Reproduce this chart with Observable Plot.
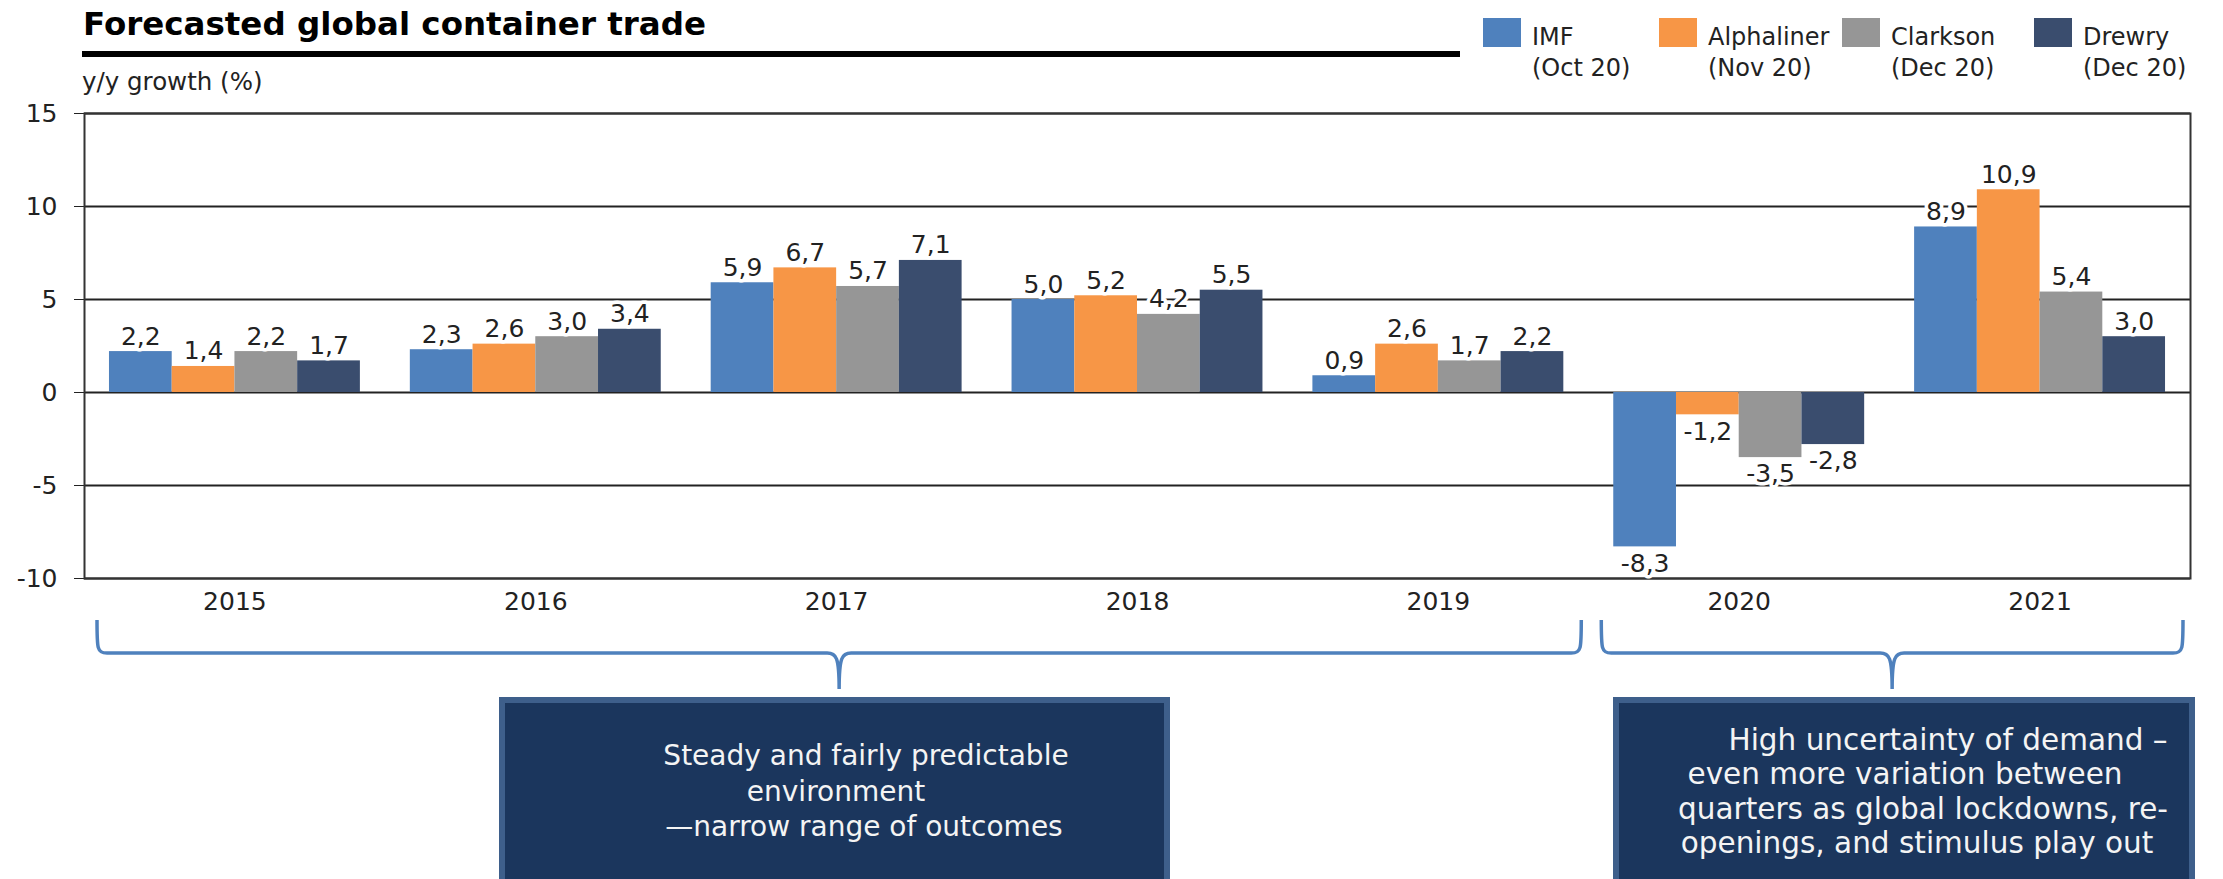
<!DOCTYPE html>
<html><head><meta charset="utf-8">
<script src="https://cdn.jsdelivr.net/npm/d3@7"></script>
<script src="https://cdn.jsdelivr.net/npm/@observablehq/plot@0.6"></script>
<style>
html,body{margin:0;padding:0;background:#fff;}
#chart{width:2223px;height:879px;overflow:hidden;}
#chart svg{display:block;}
#chart svg text{font-family:"DejaVu Sans",Verdana,sans-serif;font-size:25px;}
</style></head><body><div id="chart"></div>
<script>
// ---- data ----
const years = ["2015","2016","2017","2018","2019","2020","2021"];
const sources = ["IMF","Alphaliner","Clarkson","Drewry"];
const sourceDates = ["(Oct 20)","(Nov 20)","(Dec 20)","(Dec 20)"];
const colors = ["#4F81BD","#F79646","#969696","#3A4D6E"];
const imf        = [2.2, 2.3, 5.9, 5.0, 0.9, -8.3, 8.9];
const alphaliner = [1.4, 2.6, 6.7, 5.2, 2.6, -1.2, 10.9];
const clarkson   = [2.2, 3.0, 5.7, 4.2, 1.7, -3.5, 5.4];
const drewry     = [1.7, 3.4, 7.1, 5.5, 2.2, -2.8, 3.0];
const yTicks = [-10, -5, 0, 5, 10, 15];
const title = "Forecasted global container trade";
const yLabel = "y/y growth (%)";
const note1 = ["Steady and fairly predictable", "environment", "\u2014narrow range of outcomes"];
const note2 = ["High uncertainty of demand \u2013", "even more variation between", "quarters as global lockdowns, re-", "openings, and stimulus play out"];
const periods = [{first: "2015", last: "2019", lines: note1}, {first: "2020", last: "2021", lines: note2}];

// ---- table ----
const series = [imf, alphaliner, clarkson, drewry];
const data = [];
years.forEach((yr, i) => series.forEach((vals, j) => data.push({year: yr, yi: i, source: sources[j], si: j, value: vals[i]})));
const BW = 0.2085, PAD = (1 - 4 * BW) / 2;
const bx1 = d => d.yi + PAD + d.si * BW;
const bx2 = d => bx1(d) + BW;
const bxc = d => bx1(d) + BW / 2;
const fmt = v => v.toFixed(1).replace(".", ",");

const plot = Plot.plot({
  width: 2223, height: 879,
  marginLeft: 84, marginRight: 33, marginTop: 113, marginBottom: 301,
  style: {fontFamily: "DejaVu Sans", fontSize: "25px", color: "#222", background: "white", overflow: "visible"},
  x: {domain: [0, years.length], ticks: years.map((_, i) => i + 0.5), tickFormat: d => years[Math.floor(d)], tickSize: 0, tickPadding: 14, label: null},
  y: {domain: [-10, 15], ticks: yTicks, tickFormat: d => String(d), tickSize: 10, tickPadding: 17, label: null},
  color: {domain: sources, range: colors},
  marks: [
    Plot.ruleY(yTicks, {stroke: "#222", strokeWidth: 1.8}),
    Plot.rect(data, {x1: bx1, x2: bx2, y1: 0, y2: "value", fill: "source"}),
    Plot.frame({stroke: "#333", strokeWidth: 2}),
    Plot.text(data.filter(d => d.value >= 0), {x: bxc, y: "value", text: d => fmt(d.value), lineAnchor: "bottom", dy: -7, fontSize: 25, fill: "#222", stroke: "white", strokeWidth: 7, paintOrder: "stroke"}),
    Plot.text(data.filter(d => d.value < 0), {x: bxc, y: "value", text: d => fmt(d.value), lineAnchor: "top", dy: 7, fontSize: 25, fill: "#222", stroke: "white", strokeWidth: 7, paintOrder: "stroke"})
  ]
});
document.getElementById("chart").appendChild(plot);

// ---- annotations ----
const svg = d3.select(plot);
const xs = plot.scale("x");
const X = v => xs.apply(v);

svg.append("text").attr("x", 83).attr("y", 35).attr("fill", "#000").attr("text-anchor", "start")
  .style("font", "bold 32.5px 'DejaVu Sans'").text(title);
svg.append("rect").attr("x", 82).attr("y", 51).attr("width", 1378).attr("height", 6).attr("fill", "#000");
svg.append("text").attr("x", 82).attr("y", 90).attr("fill", "#222").attr("text-anchor", "start")
  .style("font", "24.5px 'DejaVu Sans'").text(yLabel);

// legend
const legendX = [1483, 1659, 1842, 2034];
sources.forEach((s, i) => {
  const g = svg.append("g").attr("text-anchor", "start");
  g.append("rect").attr("x", legendX[i]).attr("y", 18).attr("width", 38).attr("height", 29).attr("fill", colors[i]);
  g.append("text").attr("x", legendX[i] + 49).attr("y", 45).attr("fill", "#222").style("font", "24px 'DejaVu Sans'").text(s);
  g.append("text").attr("x", legendX[i] + 49).attr("y", 76).attr("fill", "#222").style("font", "24px 'DejaVu Sans'").text(sourceDates[i]);
});

// braces + boxes
const yTop = 620, yMid = 653, yTip = 689;
const boxes = [
  {x: 499, w: 671, centers: [866, 836, 864], base: 765, step: 35.5, font: 28},
  {x: 1613, w: 582, centers: [1948, 1905, 1923, 1917], base: 750, step: 34.3, font: 29.5}
];
periods.forEach((p, k) => {
  const a = X(years.indexOf(p.first)) + 13;
  const b = X(years.indexOf(p.last) + 1) - 7;
  const c = (a + b) / 2;
  const path = `M${a},${yTop} C${a},${yMid - 4} ${a},${yMid} ${a + 10},${yMid} L${c - 12},${yMid} C${c - 3},${yMid} ${c},${yMid + 4} ${c},${yTip} C${c},${yMid + 4} ${c + 3},${yMid} ${c + 12},${yMid} L${b - 10},${yMid} C${b},${yMid} ${b},${yMid - 4} ${b},${yTop}`;
  svg.append("path").attr("d", path).attr("fill", "none").attr("stroke", "#4F81BD").attr("stroke-width", 3.5);
  const bx = boxes[k];
  svg.append("rect").attr("x", bx.x + 3).attr("y", 700).attr("width", bx.w - 6).attr("height", 220)
    .attr("fill", "#1B365D").attr("stroke", "#3E5F8B").attr("stroke-width", 6);
  p.lines.forEach((t, li) => {
    svg.append("text").attr("x", bx.centers[li]).attr("y", bx.base + li * bx.step).attr("text-anchor", "middle")
      .attr("fill", "#F4F4F4").style("font", `${bx.font}px 'DejaVu Sans'`).text(t);
  });
});
</script></body></html>
